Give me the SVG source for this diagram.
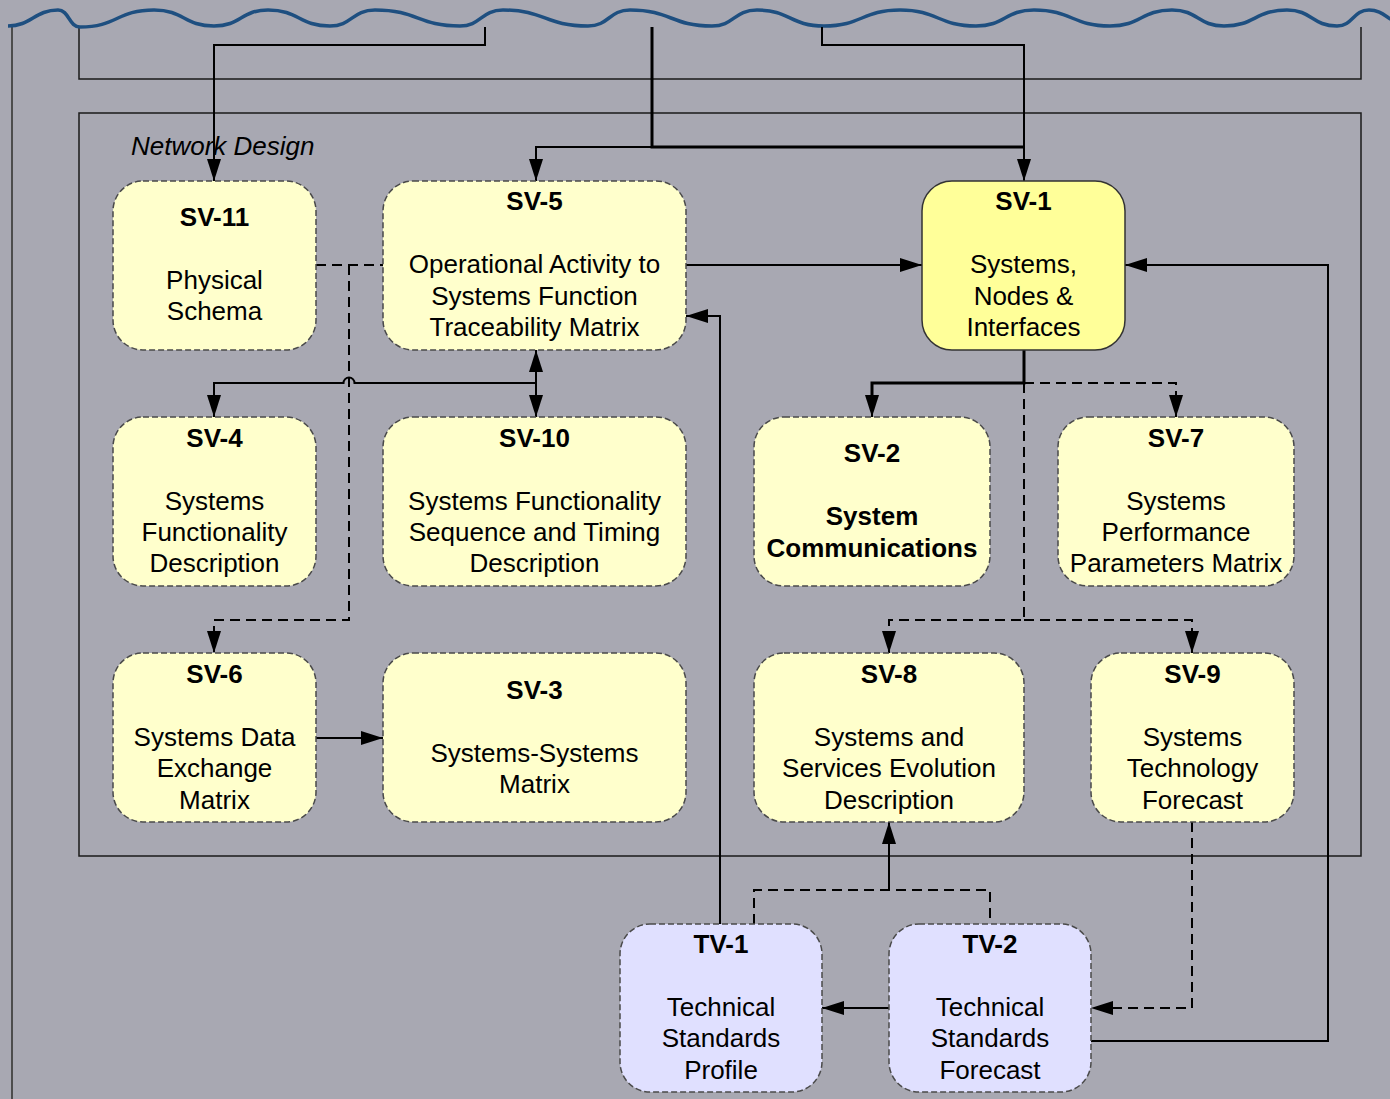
<svg xmlns="http://www.w3.org/2000/svg" width="1390" height="1099" viewBox="0 0 1390 1099">
  <style>
    .node { fill: #FFFFCC; stroke: #4a4a4a; stroke-width: 1.5; stroke-dasharray: 6 3; }
    .node-main { fill: #FFFF99; stroke: #333333; stroke-width: 1.5; }
    .node-tv { fill: #E0E0FF; stroke: #4a4a4a; stroke-width: 1.5; stroke-dasharray: 6 3; }
    text { font-family: "Liberation Sans", Arial, sans-serif; font-size: 26px; fill: #000; text-anchor: middle; }
    .title { font-weight: bold; }
    .bold { font-weight: bold; }
    .label { font-style: italic; text-anchor: start; }
    .frame { fill: none; stroke: #1a1a1a; stroke-width: 1.5; }
    .conn { fill: none; stroke: #000; stroke-width: 2; }
    .thick { fill: none; stroke: #000; stroke-width: 3; }
    .dash { fill: none; stroke: #000; stroke-width: 2; stroke-dasharray: 10 6; }
  </style>
  <defs>
    <marker id="arrow" markerUnits="userSpaceOnUse" markerWidth="22" markerHeight="14" refX="22" refY="7" orient="auto-start-reverse">
      <path d="M0,0 L22,7 L0,14 z" fill="#000"/>
    </marker>
  </defs>

  <!-- background -->
  <rect x="0" y="0" width="1390" height="1099" fill="#A8A8B2"/>

  <!-- page edge and frames -->
  <g id="frames">
    <line x1="12" y1="27" x2="12" y2="1099" stroke="#4d4d4d" stroke-width="2"/>
    <path class="frame" d="M79,27 V79 H1361 V27"/>
    <rect class="frame" x="79" y="113" width="1282" height="743"/>
    <text class="label" x="131" y="155">Network Design</text>
  </g>

  <!-- wavy top edge -->
  <path id="wave" fill="none" stroke="#1E4F80" stroke-width="3.5" d="M8,26 C31,26 35,10 58,10 C69,10 69,27 80,27 C117,27 117,10 154,10 C184,10 184,26 214,26 C241,26 241,10 268,10 C299,10 299,26 330,26 C352,26 352,10 375,10 C418,10 418,26 460,26 C481,26 481,10 503,10 C545,10 545,26 588,26 C609,26 609,10 630,10 C671,10 671,26 712,26 C734,26 734,10 757,10 C790,10 790,26 824,26 C862,26 862,10 900,10 C938,10 938,26 976,26 C1005,26 1005,10 1034,10 C1072,10 1072,26 1110,26 C1141,26 1141,10 1172,10 C1198,10 1198,26 1224,26 C1255,26 1255,10 1287,10 C1312,10 1312,26 1337,26 C1353,26 1353,10 1369,10 C1380,10 1385,16 1392,20"/>

  <!-- connectors -->
  <g id="connectors">
    <!-- from top into SV-11 -->
    <path class="conn" d="M485,27 V45 H214 V181" marker-end="url(#arrow)"/>
    <!-- from top into SV-5 and SV-1 -->
    <path class="thick" d="M652,27 V147 H1024"/>
    <path class="conn" d="M652,147 H536 V181" marker-end="url(#arrow)"/>
    <path class="conn" d="M822,27 V45 H1024 V181" marker-end="url(#arrow)"/>
    <!-- SV-5 to SV-1 -->
    <path class="conn" d="M686,265 H922" marker-end="url(#arrow)"/>
    <!-- SV-11 / SV-5 dashed link down to SV-6 -->
    <path class="dash" d="M316,265 H383"/>
    <path class="dash" d="M349,265 V620 H214 V653" marker-end="url(#arrow)"/>
    <!-- SV-5 and SV-10, with branch to SV-4 hopping over the dashed line -->
    <path class="conn" d="M536,350 V417" marker-start="url(#arrow)" marker-end="url(#arrow)"/>
    <path class="conn" d="M536,383 H354.5 A5.5,5.5 0 0 0 343.5,383 H214 V417" marker-end="url(#arrow)"/>
    <!-- SV-6 to SV-3 -->
    <path class="conn" d="M316,738 H383" marker-end="url(#arrow)"/>
    <!-- SV-1 to SV-2 -->
    <path class="thick" d="M1024,350 V383 H872 V403"/>
    <path class="conn" d="M872,400 V417" marker-end="url(#arrow)"/>
    <!-- SV-1 dashed to SV-7, SV-8, SV-9 -->
    <path class="dash" d="M1024,383 H1176 V417" marker-end="url(#arrow)"/>
    <path class="dash" d="M1024,383 V620 H889 V653" marker-end="url(#arrow)"/>
    <path class="dash" d="M1024,620 H1192 V653" marker-end="url(#arrow)"/>
    <!-- TV-1 to SV-5 -->
    <path class="conn" d="M720,924 V316 H686" marker-end="url(#arrow)"/>
    <!-- TV-1 / TV-2 to SV-8 -->
    <path class="dash" d="M754,924 V890 H990 V924"/>
    <path class="conn" d="M889,890 V822" marker-end="url(#arrow)"/>
    <!-- TV-2 to TV-1 -->
    <path class="conn" d="M889,1008 H822" marker-end="url(#arrow)"/>
    <!-- SV-9 to TV-2 -->
    <path class="dash" d="M1192,822 V1008 H1091" marker-end="url(#arrow)"/>
    <!-- TV-2 to SV-1 -->
    <path class="conn" d="M1091,1041 H1328 V265 H1125" marker-end="url(#arrow)"/>
  </g>

  <!-- nodes -->
  <g id="sv11">
    <rect class="node" x="113" y="181" width="203" height="169" rx="30"/>
    <text class="title" x="214.5" y="226">SV-11</text>
    <text x="214.5" y="289">Physical</text>
    <text x="214.5" y="320">Schema</text>
  </g>
  <g id="sv5">
    <rect class="node" x="383" y="181" width="303" height="169" rx="30"/>
    <text class="title" x="534.5" y="210">SV-5</text>
    <text x="534.5" y="273">Operational Activity to</text>
    <text x="534.5" y="305">Systems Function</text>
    <text x="534.5" y="336">Traceability Matrix</text>
  </g>
  <g id="sv1">
    <rect class="node-main" x="922" y="181" width="203" height="169" rx="30"/>
    <text class="title" x="1023.5" y="210">SV-1</text>
    <text x="1023.5" y="273">Systems,</text>
    <text x="1023.5" y="305">Nodes &amp;</text>
    <text x="1023.5" y="336">Interfaces</text>
  </g>
  <g id="sv4">
    <rect class="node" x="113" y="417" width="203" height="169" rx="30"/>
    <text class="title" x="214.5" y="447">SV-4</text>
    <text x="214.5" y="510">Systems</text>
    <text x="214.5" y="541">Functionality</text>
    <text x="214.5" y="572">Description</text>
  </g>
  <g id="sv10">
    <rect class="node" x="383" y="417" width="303" height="169" rx="30"/>
    <text class="title" x="534.5" y="447">SV-10</text>
    <text x="534.5" y="510">Systems Functionality</text>
    <text x="534.5" y="541">Sequence and Timing</text>
    <text x="534.5" y="572">Description</text>
  </g>
  <g id="sv2">
    <rect class="node" x="754" y="417" width="236" height="169" rx="30"/>
    <text class="title" x="872" y="462">SV-2</text>
    <text class="bold" x="872" y="525">System</text>
    <text class="bold" x="872" y="557">Communications</text>
  </g>
  <g id="sv7">
    <rect class="node" x="1058" y="417" width="236" height="169" rx="30"/>
    <text class="title" x="1176" y="447">SV-7</text>
    <text x="1176" y="510">Systems</text>
    <text x="1176" y="541">Performance</text>
    <text x="1176" y="572">Parameters Matrix</text>
  </g>
  <g id="sv6">
    <rect class="node" x="113" y="653" width="203" height="169" rx="30"/>
    <text class="title" x="214.5" y="683">SV-6</text>
    <text x="214.5" y="746">Systems Data</text>
    <text x="214.5" y="777">Exchange</text>
    <text x="214.5" y="809">Matrix</text>
  </g>
  <g id="sv3">
    <rect class="node" x="383" y="653" width="303" height="169" rx="30"/>
    <text class="title" x="534.5" y="699">SV-3</text>
    <text x="534.5" y="762">Systems-Systems</text>
    <text x="534.5" y="793">Matrix</text>
  </g>
  <g id="sv8">
    <rect class="node" x="754" y="653" width="270" height="169" rx="30"/>
    <text class="title" x="889" y="683">SV-8</text>
    <text x="889" y="746">Systems and</text>
    <text x="889" y="777">Services Evolution</text>
    <text x="889" y="809">Description</text>
  </g>
  <g id="sv9">
    <rect class="node" x="1091" y="653" width="203" height="169" rx="30"/>
    <text class="title" x="1192.5" y="683">SV-9</text>
    <text x="1192.5" y="746">Systems</text>
    <text x="1192.5" y="777">Technology</text>
    <text x="1192.5" y="809">Forecast</text>
  </g>
  <g id="tv1">
    <rect class="node-tv" x="620" y="924" width="202" height="168" rx="30"/>
    <text class="title" x="721" y="953">TV-1</text>
    <text x="721" y="1016">Technical</text>
    <text x="721" y="1047">Standards</text>
    <text x="721" y="1079">Profile</text>
  </g>
  <g id="tv2">
    <rect class="node-tv" x="889" y="924" width="202" height="168" rx="30"/>
    <text class="title" x="990" y="953">TV-2</text>
    <text x="990" y="1016">Technical</text>
    <text x="990" y="1047">Standards</text>
    <text x="990" y="1079">Forecast</text>
  </g>
</svg>
